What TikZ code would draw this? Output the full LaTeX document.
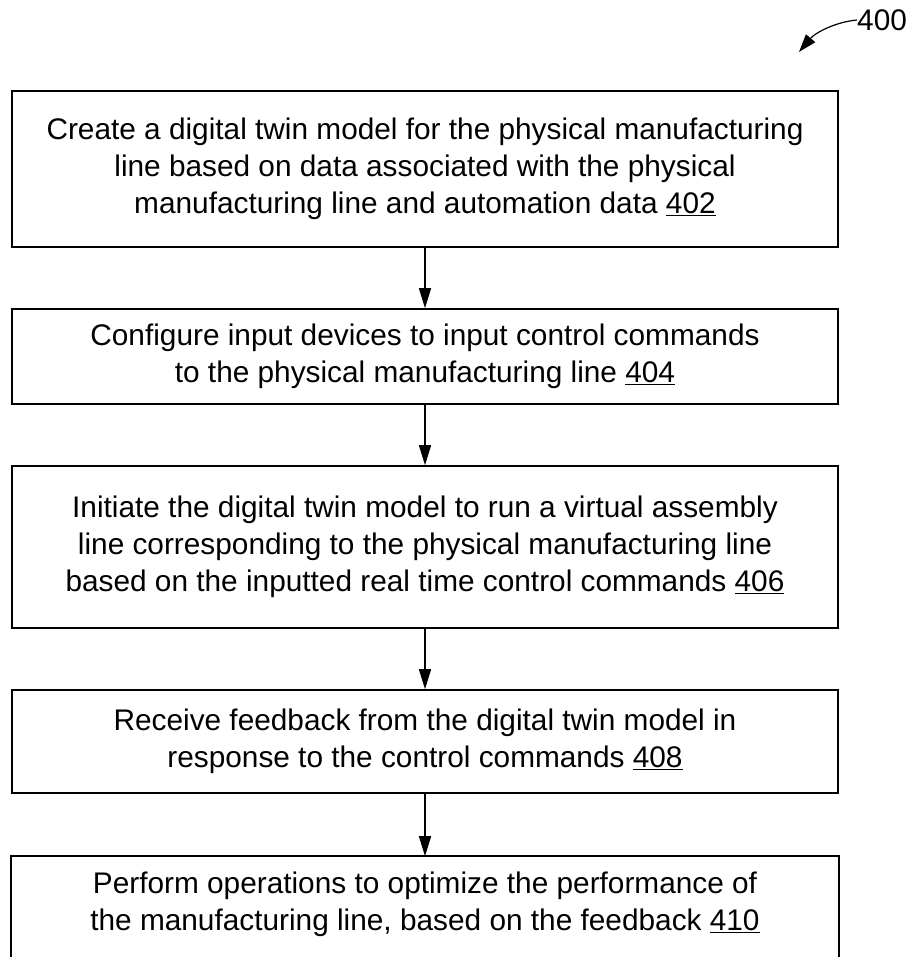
\documentclass[tikz,border=0pt]{standalone}
\usepackage{fontspec}
\setmainfont{Liberation Sans}
\usetikzlibrary{arrows.meta}
\begin{document}
\begin{tikzpicture}[x=1pt,y=-1pt,
  txt/.style={font=\fontsize{29.8}{36.8}\selectfont},
  stepbox/.style={draw, line width=1.6pt, minimum width=826pt, align=center, inner sep=0pt, txt},
  flow/.style={-{Triangle[length=20pt,width=12pt]}, line width=1.5pt},
  refarrow/.style={-{Triangle[length=18pt,width=12pt]}, line width=1.2pt}]
\useasboundingbox (0,0) rectangle (911,957);
\clip (0,0) rectangle (911,957);
\node[stepbox, minimum height=156pt] (b1) at (425,169) {Create a digital twin model for the physical manufacturing\\line based on data associated with the physical\\manufacturing line and automation data \underline{402}};
\node[stepbox, minimum height=95pt] (b2) at (425,356.5) {Configure input devices to input control commands\\to the physical manufacturing line \underline{404}};
\node[stepbox, minimum height=162pt] (b3) at (425,547) {Initiate the digital twin model to run a virtual assembly\\line corresponding to the physical manufacturing line\\based on the inputted real time control commands \underline{406}};
\node[stepbox, minimum height=103pt] (b4) at (425,741.5) {Receive feedback from the digital twin model in\\response to the control commands \underline{408}};
\node[stepbox, draw=none, minimum height=95pt] (b5) at (425,904.5) {Perform operations to optimize the performance of\\the manufacturing line, based on the feedback \underline{410}};
\draw[line width=1.6pt] ([yshift=-200pt]b5.south west) -- (b5.north west) -- (b5.north east) -- ([yshift=-200pt]b5.south east);
\draw[flow] (b1) -- (b2);
\draw[flow] (b2) -- (b3);
\draw[flow] (b3) -- (b4);
\draw[flow] (b4) -- (b5);
\node[txt, inner sep=0pt, anchor=west] (n400) at (857,20) {400};
\coordinate (t400) at (799,52);
\draw[refarrow] (n400.west) .. controls (835,22) and (815,33) .. (t400);
\end{tikzpicture}
\end{document}
